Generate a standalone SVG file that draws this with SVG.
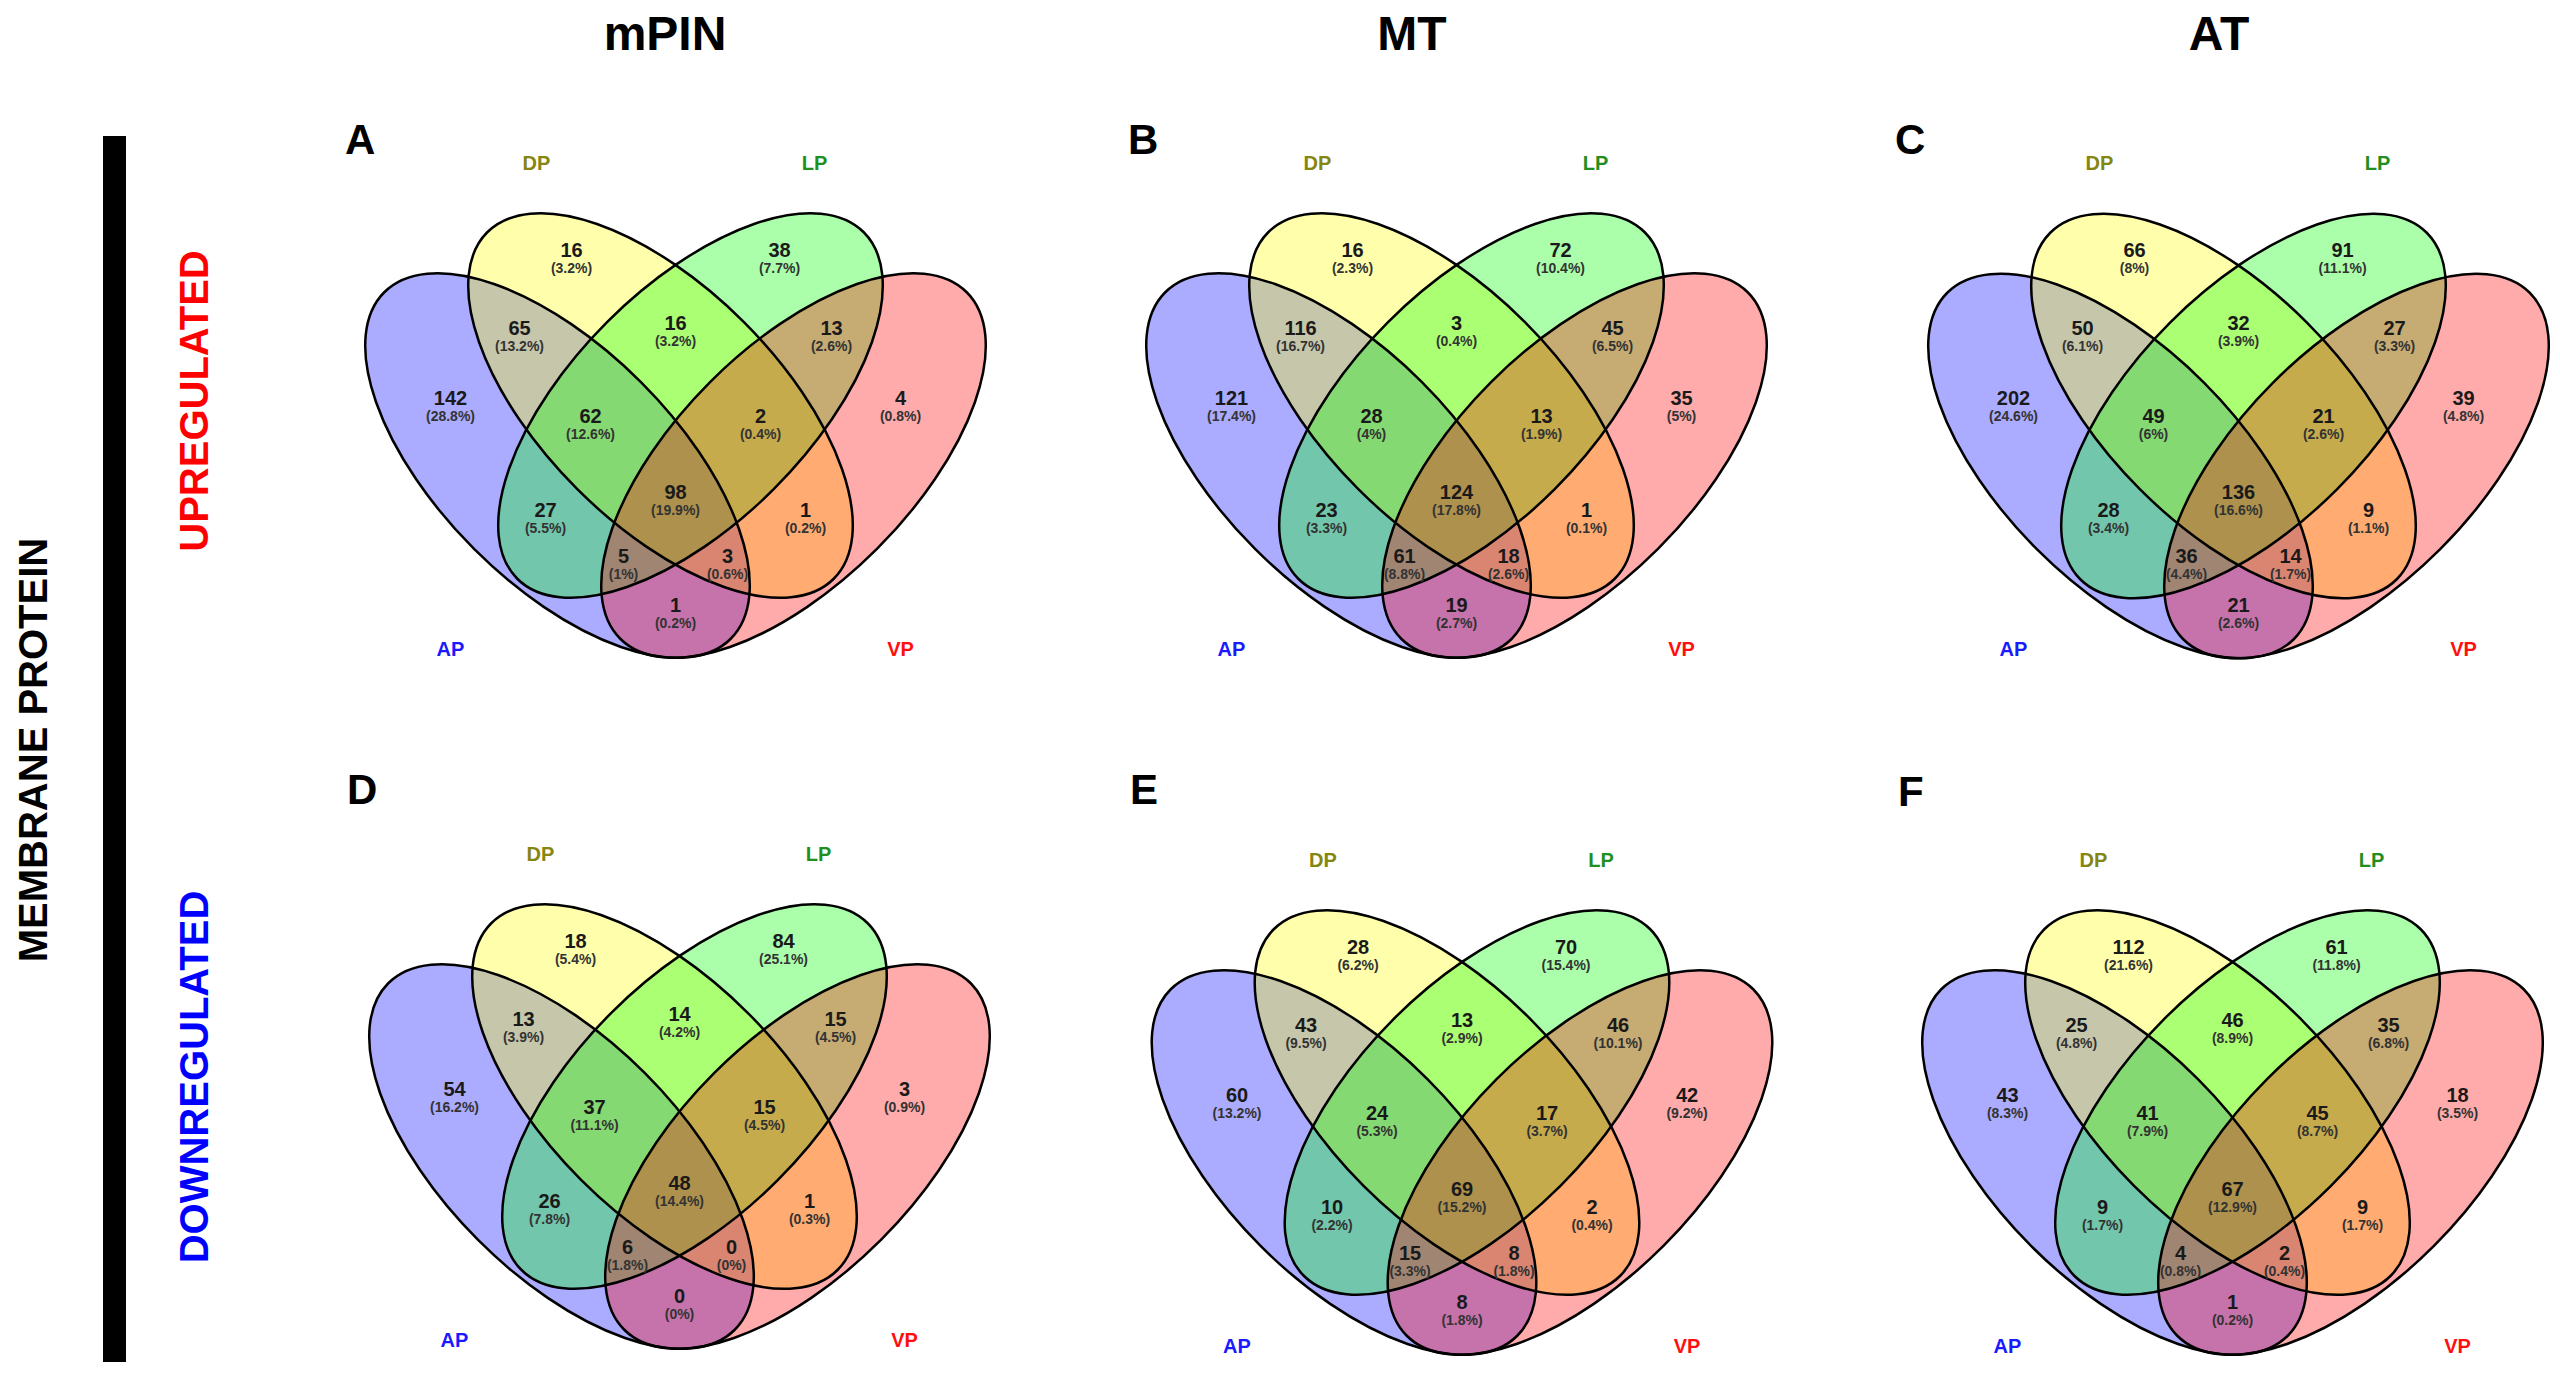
<svg xmlns="http://www.w3.org/2000/svg" xmlns:xlink="http://www.w3.org/1999/xlink" width="2560" height="1380" viewBox="0 0 2560 1380">
<style>
text{font-family:"Liberation Sans",Arial,Helvetica,sans-serif;font-weight:bold}
.n{font-size:20px;fill:#1a1a1a;text-anchor:middle}
.p{font-size:14px;fill:#333;text-anchor:middle}
.lab{font-size:20px;text-anchor:middle}
.ttl{font-size:48px;fill:#000;text-anchor:middle}
.let{font-size:42px;fill:#000}
.side{font-size:40px;text-anchor:middle}
.fa{fill:#0000ff;fill-opacity:.33}
.fd{fill:#ffff00;fill-opacity:.33}
.fl{fill:#00ff00;fill-opacity:.33}
.fv{fill:#ff0000;fill-opacity:.33}
.st{fill:none;stroke:#000;stroke-width:2.5}
</style>
<defs>
<ellipse id="eA" cx="-118" cy="60" rx="245" ry="118" transform="rotate(45 -118 60)"/>
<ellipse id="eD" cx="-15" cy="0" rx="245" ry="118" transform="rotate(45 -15 0)"/>
<ellipse id="eL" cx="15" cy="0" rx="245" ry="118" transform="rotate(-45 15 0)"/>
<ellipse id="eV" cx="118" cy="60" rx="245" ry="118" transform="rotate(-45 118 60)"/>
<g id="venn">
<use xlink:href="#eA" class="fa"/><use xlink:href="#eD" class="fd"/><use xlink:href="#eL" class="fl"/><use xlink:href="#eV" class="fv"/>
<use xlink:href="#eA" class="st"/><use xlink:href="#eD" class="st"/><use xlink:href="#eL" class="st"/><use xlink:href="#eV" class="st"/>
<text class="lab" x="-139" y="-236" fill="#858512">DP</text>
<text class="lab" x="139" y="-236" fill="#1f8f1f">LP</text>
<text class="lab" x="-225" y="250" fill="#1a1aff">AP</text>
<text class="lab" x="225" y="250" fill="#ff1010">VP</text>
</g>
</defs>
<rect width="2560" height="1380" fill="#fff"/>

<g id="titles">
<text class="ttl" x="665" y="50">mPIN</text>
<text class="ttl" x="1412" y="50">MT</text>
<text class="ttl" x="2219" y="50">AT</text>
</g>

<g id="side">
<rect x="103" y="136" width="23" height="1226" fill="#000"/>
<text class="side" transform="translate(47,750) rotate(-90)" fill="#000">MEMBRANE PROTEIN</text>
<text class="side" transform="translate(208,401) rotate(-90)" fill="#ff0000">UPREGULATED</text>
<text class="side" transform="translate(208,1077) rotate(-90)" fill="#0000ff">DOWNREGULATED</text>
</g>

<g id="letters">
<text class="let" x="345" y="154">A</text>
<text class="let" x="1128" y="154">B</text>
<text class="let" x="1895" y="154">C</text>
<text class="let" x="347" y="804">D</text>
<text class="let" x="1130" y="804">E</text>
<text class="let" x="1898" y="806">F</text>
</g>

<g id="panelA" transform="translate(675.5,405.5)">
<use xlink:href="#venn"/>
<text class="n" x="-104" y="-149">16</text><text class="p" x="-104" y="-133">(3.2%)</text>
<text class="n" x="104" y="-149">38</text><text class="p" x="104" y="-133">(7.7%)</text>
<text class="n" x="-156" y="-71">65</text><text class="p" x="-156" y="-55">(13.2%)</text>
<text class="n" x="0" y="-76">16</text><text class="p" x="0" y="-60">(3.2%)</text>
<text class="n" x="156" y="-71">13</text><text class="p" x="156" y="-55">(2.6%)</text>
<text class="n" x="-225" y="-1">142</text><text class="p" x="-225" y="15">(28.8%)</text>
<text class="n" x="225" y="-1">4</text><text class="p" x="225" y="15">(0.8%)</text>
<text class="n" x="-85" y="17">62</text><text class="p" x="-85" y="33">(12.6%)</text>
<text class="n" x="85" y="17">2</text><text class="p" x="85" y="33">(0.4%)</text>
<text class="n" x="-130" y="111">27</text><text class="p" x="-130" y="127">(5.5%)</text>
<text class="n" x="0" y="93">98</text><text class="p" x="0" y="109">(19.9%)</text>
<text class="n" x="130" y="111">1</text><text class="p" x="130" y="127">(0.2%)</text>
<text class="n" x="-52" y="157">5</text><text class="p" x="-52" y="173">(1%)</text>
<text class="n" x="52" y="157">3</text><text class="p" x="52" y="173">(0.6%)</text>
<text class="n" x="0" y="206">1</text><text class="p" x="0" y="222">(0.2%)</text>
</g>

<g id="panelB" transform="translate(1456.5,405.5)">
<use xlink:href="#venn"/>
<text class="n" x="-104" y="-149">16</text><text class="p" x="-104" y="-133">(2.3%)</text>
<text class="n" x="104" y="-149">72</text><text class="p" x="104" y="-133">(10.4%)</text>
<text class="n" x="-156" y="-71">116</text><text class="p" x="-156" y="-55">(16.7%)</text>
<text class="n" x="0" y="-76">3</text><text class="p" x="0" y="-60">(0.4%)</text>
<text class="n" x="156" y="-71">45</text><text class="p" x="156" y="-55">(6.5%)</text>
<text class="n" x="-225" y="-1">121</text><text class="p" x="-225" y="15">(17.4%)</text>
<text class="n" x="225" y="-1">35</text><text class="p" x="225" y="15">(5%)</text>
<text class="n" x="-85" y="17">28</text><text class="p" x="-85" y="33">(4%)</text>
<text class="n" x="85" y="17">13</text><text class="p" x="85" y="33">(1.9%)</text>
<text class="n" x="-130" y="111">23</text><text class="p" x="-130" y="127">(3.3%)</text>
<text class="n" x="0" y="93">124</text><text class="p" x="0" y="109">(17.8%)</text>
<text class="n" x="130" y="111">1</text><text class="p" x="130" y="127">(0.1%)</text>
<text class="n" x="-52" y="157">61</text><text class="p" x="-52" y="173">(8.8%)</text>
<text class="n" x="52" y="157">18</text><text class="p" x="52" y="173">(2.6%)</text>
<text class="n" x="0" y="206">19</text><text class="p" x="0" y="222">(2.7%)</text>
</g>

<g id="panelC" transform="translate(2238.5,406)">
<use xlink:href="#venn"/>
<text class="n" x="-104" y="-149">66</text><text class="p" x="-104" y="-133">(8%)</text>
<text class="n" x="104" y="-149">91</text><text class="p" x="104" y="-133">(11.1%)</text>
<text class="n" x="-156" y="-71">50</text><text class="p" x="-156" y="-55">(6.1%)</text>
<text class="n" x="0" y="-76">32</text><text class="p" x="0" y="-60">(3.9%)</text>
<text class="n" x="156" y="-71">27</text><text class="p" x="156" y="-55">(3.3%)</text>
<text class="n" x="-225" y="-1">202</text><text class="p" x="-225" y="15">(24.6%)</text>
<text class="n" x="225" y="-1">39</text><text class="p" x="225" y="15">(4.8%)</text>
<text class="n" x="-85" y="17">49</text><text class="p" x="-85" y="33">(6%)</text>
<text class="n" x="85" y="17">21</text><text class="p" x="85" y="33">(2.6%)</text>
<text class="n" x="-130" y="111">28</text><text class="p" x="-130" y="127">(3.4%)</text>
<text class="n" x="0" y="93">136</text><text class="p" x="0" y="109">(16.6%)</text>
<text class="n" x="130" y="111">9</text><text class="p" x="130" y="127">(1.1%)</text>
<text class="n" x="-52" y="157">36</text><text class="p" x="-52" y="173">(4.4%)</text>
<text class="n" x="52" y="157">14</text><text class="p" x="52" y="173">(1.7%)</text>
<text class="n" x="0" y="206">21</text><text class="p" x="0" y="222">(2.6%)</text>
</g>

<g id="panelD" transform="translate(679.5,1096.5)">
<use xlink:href="#venn"/>
<text class="n" x="-104" y="-149">18</text><text class="p" x="-104" y="-133">(5.4%)</text>
<text class="n" x="104" y="-149">84</text><text class="p" x="104" y="-133">(25.1%)</text>
<text class="n" x="-156" y="-71">13</text><text class="p" x="-156" y="-55">(3.9%)</text>
<text class="n" x="0" y="-76">14</text><text class="p" x="0" y="-60">(4.2%)</text>
<text class="n" x="156" y="-71">15</text><text class="p" x="156" y="-55">(4.5%)</text>
<text class="n" x="-225" y="-1">54</text><text class="p" x="-225" y="15">(16.2%)</text>
<text class="n" x="225" y="-1">3</text><text class="p" x="225" y="15">(0.9%)</text>
<text class="n" x="-85" y="17">37</text><text class="p" x="-85" y="33">(11.1%)</text>
<text class="n" x="85" y="17">15</text><text class="p" x="85" y="33">(4.5%)</text>
<text class="n" x="-130" y="111">26</text><text class="p" x="-130" y="127">(7.8%)</text>
<text class="n" x="0" y="93">48</text><text class="p" x="0" y="109">(14.4%)</text>
<text class="n" x="130" y="111">1</text><text class="p" x="130" y="127">(0.3%)</text>
<text class="n" x="-52" y="157">6</text><text class="p" x="-52" y="173">(1.8%)</text>
<text class="n" x="52" y="157">0</text><text class="p" x="52" y="173">(0%)</text>
<text class="n" x="0" y="206">0</text><text class="p" x="0" y="222">(0%)</text>
</g>

<g id="panelE" transform="translate(1462,1102.5)">
<use xlink:href="#venn"/>
<text class="n" x="-104" y="-149">28</text><text class="p" x="-104" y="-133">(6.2%)</text>
<text class="n" x="104" y="-149">70</text><text class="p" x="104" y="-133">(15.4%)</text>
<text class="n" x="-156" y="-71">43</text><text class="p" x="-156" y="-55">(9.5%)</text>
<text class="n" x="0" y="-76">13</text><text class="p" x="0" y="-60">(2.9%)</text>
<text class="n" x="156" y="-71">46</text><text class="p" x="156" y="-55">(10.1%)</text>
<text class="n" x="-225" y="-1">60</text><text class="p" x="-225" y="15">(13.2%)</text>
<text class="n" x="225" y="-1">42</text><text class="p" x="225" y="15">(9.2%)</text>
<text class="n" x="-85" y="17">24</text><text class="p" x="-85" y="33">(5.3%)</text>
<text class="n" x="85" y="17">17</text><text class="p" x="85" y="33">(3.7%)</text>
<text class="n" x="-130" y="111">10</text><text class="p" x="-130" y="127">(2.2%)</text>
<text class="n" x="0" y="93">69</text><text class="p" x="0" y="109">(15.2%)</text>
<text class="n" x="130" y="111">2</text><text class="p" x="130" y="127">(0.4%)</text>
<text class="n" x="-52" y="157">15</text><text class="p" x="-52" y="173">(3.3%)</text>
<text class="n" x="52" y="157">8</text><text class="p" x="52" y="173">(1.8%)</text>
<text class="n" x="0" y="206">8</text><text class="p" x="0" y="222">(1.8%)</text>
</g>

<g id="panelF" transform="translate(2232.5,1102.5)">
<use xlink:href="#venn"/>
<text class="n" x="-104" y="-149">112</text><text class="p" x="-104" y="-133">(21.6%)</text>
<text class="n" x="104" y="-149">61</text><text class="p" x="104" y="-133">(11.8%)</text>
<text class="n" x="-156" y="-71">25</text><text class="p" x="-156" y="-55">(4.8%)</text>
<text class="n" x="0" y="-76">46</text><text class="p" x="0" y="-60">(8.9%)</text>
<text class="n" x="156" y="-71">35</text><text class="p" x="156" y="-55">(6.8%)</text>
<text class="n" x="-225" y="-1">43</text><text class="p" x="-225" y="15">(8.3%)</text>
<text class="n" x="225" y="-1">18</text><text class="p" x="225" y="15">(3.5%)</text>
<text class="n" x="-85" y="17">41</text><text class="p" x="-85" y="33">(7.9%)</text>
<text class="n" x="85" y="17">45</text><text class="p" x="85" y="33">(8.7%)</text>
<text class="n" x="-130" y="111">9</text><text class="p" x="-130" y="127">(1.7%)</text>
<text class="n" x="0" y="93">67</text><text class="p" x="0" y="109">(12.9%)</text>
<text class="n" x="130" y="111">9</text><text class="p" x="130" y="127">(1.7%)</text>
<text class="n" x="-52" y="157">4</text><text class="p" x="-52" y="173">(0.8%)</text>
<text class="n" x="52" y="157">2</text><text class="p" x="52" y="173">(0.4%)</text>
<text class="n" x="0" y="206">1</text><text class="p" x="0" y="222">(0.2%)</text>
</g>
</svg>
